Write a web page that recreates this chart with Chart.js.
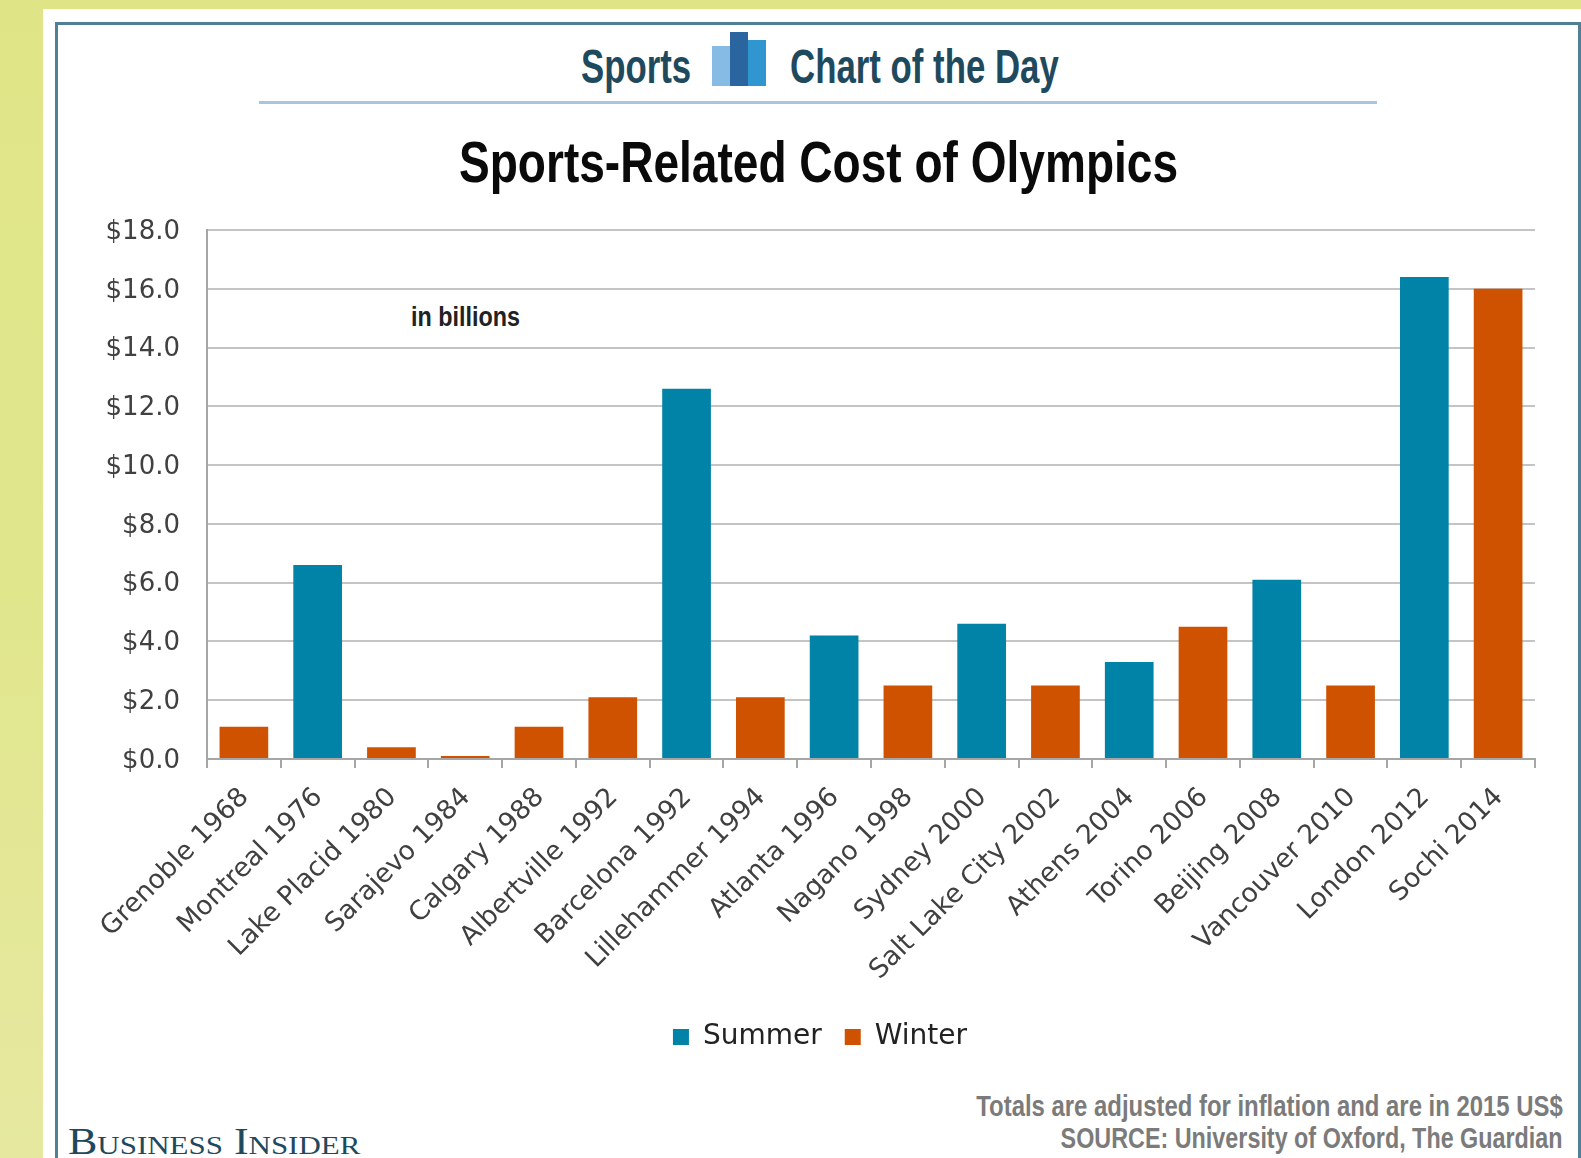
<!DOCTYPE html>
<html>
<head>
<meta charset="utf-8">
<title>Sports-Related Cost of Olympics</title>
<script src="https://cdn.jsdelivr.net/npm/chart.js@4"></script>
<style>
  html, body { margin: 0; padding: 0; }
  body { width: 1581px; height: 1158px; overflow: hidden; position: relative;
         background: linear-gradient(180deg, #dfe587 0%, #e0e68c 50%, #e6e8a0 100%); }
  #sheet { position: absolute; left: 43px; top: 9px; width: 1538px; height: 1149px; background: #fff; }
  #frame { position: absolute; left: 55px; top: 22px; width: 1520px; height: 1140px;
           border: 3px solid #4f8096; }
  canvas { position: absolute; left: 0; top: 0; }
  .txt { position: absolute; white-space: nowrap; font-family: "Liberation Sans", sans-serif; font-weight: bold; transform-origin: 0 0; }
  .head { color: #1f4a5e; font-size: 48px; line-height: 54px; top: 40px; transform: scaleX(0.725); }
  .note { right: 18px; font-size: 29px; line-height: 32px; color: #7b7b7b; transform-origin: 100% 0; }
  #rule { position: absolute; left: 259px; top: 101px; width: 1118px; height: 3px; background: #a9c4de; }
  .bar { position: absolute; }
</style>
</head>
<body>
<div id="sheet"></div>
<div id="frame"></div>

<div class="txt head" style="left:581px">Sports</div>
<div class="bar" style="left:712px;top:46px;width:54px;height:40px;background:#85bbe4"></div>
<div class="bar" style="left:748px;top:40px;width:18px;height:46px;background:#2f96d0"></div>
<div class="bar" style="left:730px;top:32px;width:18px;height:54px;background:#2a659f"></div>
<div class="txt head" style="left:790px">Chart of the Day</div>
<div id="rule"></div>

<div class="txt" style="left:459px;top:128px;font-size:58px;line-height:68px;color:#0a0a0a;transform:scaleX(0.794)">Sports-Related Cost of Olympics</div>
<div class="txt" style="left:411px;top:301px;font-size:27px;line-height:32px;color:#222;transform:scaleX(0.864)">in billions</div>

<div class="txt note" style="top:1090px;transform:scaleX(0.824)">Totals are adjusted for inflation and are in 2015 US$</div>
<div class="txt note" style="top:1122px;transform:scaleX(0.805)">SOURCE: University of Oxford, The Guardian</div>
<div style="position:absolute;left:68px;top:1122px;font:37px/40px 'Liberation Serif',serif;font-variant:small-caps;color:#1f4a5e;white-space:nowrap;transform-origin:0 0;transform:scaleX(1.19)">Business Insider</div>

<canvas id="costChart" width="1581" height="1158"></canvas>

<script>
const CATEGORIES = ['Grenoble 1968', 'Montreal 1976', 'Lake Placid 1980', 'Sarajevo 1984', 'Calgary 1988',
  'Albertville 1992', 'Barcelona 1992', 'Lillehammer 1994', 'Atlanta 1996', 'Nagano 1998', 'Sydney 2000',
  'Salt Lake City 2002', 'Athens 2004', 'Torino 2006', 'Beijing 2008', 'Vancouver 2010', 'London 2012', 'Sochi 2014'];
const SUMMER = [null, 6.6, null, null, null, null, 12.6, null, 4.2, null, 4.6, null, 3.3, null, 6.1, null, 16.4, null];
const WINTER = [1.1, null, 0.4, 0.1, 1.1, 2.1, null, 2.1, null, 2.5, null, 2.5, null, 4.5, null, 2.5, null, 16.0];

const TICK_COLOR = '#404040';
const FONT = 'DejaVu Sans';

const chart = new Chart(document.getElementById('costChart').getContext('2d'), {
  type: 'bar',
  data: {
    labels: CATEGORIES,
    datasets: [
      { label: 'Summer', data: SUMMER, backgroundColor: '#0083a6', stack: 'games' },
      { label: 'Winter', data: WINTER, backgroundColor: '#cf5200', stack: 'games' }
    ]
  },
  options: {
    responsive: false,
    animation: false,
    layout: { padding: { left: 105, right: 46, top: 230, bottom: 97 } },
    datasets: { bar: { categoryPercentage: 1, barPercentage: 0.66 } },
    plugins: {
      tooltip: { enabled: false },
      legend: {
        position: 'bottom',
        labels: { boxWidth: 16, boxHeight: 16, padding: 23, color: '#222', font: { family: FONT, size: 28 } }
      }
    },
    scales: {
      x: {
        stacked: true,
        afterFit(scale) { scale.height = 241; },
        border: { color: '#a6a6a6', width: 2 },
        grid: { drawOnChartArea: false, color: '#a6a6a6', lineWidth: 2, tickLength: 9 },
        ticks: { autoSkip: false, minRotation: 45, maxRotation: 45, padding: 14, labelOffset: 1, color: TICK_COLOR, font: { family: FONT, size: 26.5 } }
      },
      y: {
        stacked: true,
        min: 0,
        max: 18,
        afterFit(scale) { scale.width = 102; },
        border: { color: '#a6a6a6', width: 2 },
        grid: { color: '#c4c4c4', lineWidth: 2, tickLength: 0 },
        ticks: { stepSize: 2, padding: 27, labelOffset: 2, color: TICK_COLOR, font: { family: FONT, size: 26 },
                 callback: v => '$' + v.toFixed(1) }
      }
    }
  }
});
</script>
</body>
</html>
